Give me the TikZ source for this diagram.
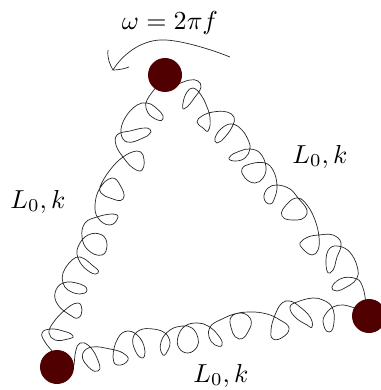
\documentclass[tikz,border=0pt]{standalone}
\usetikzlibrary{backgrounds}
\tikzset{
  ball/.style={circle,fill=ballred,draw=none,inner sep=0pt,minimum size=34pt},
  spring/.style={draw=black!85,line width=0.7pt},
  lab/.style={scale=2.6,inner sep=0pt,text=black},
  spin/.style={draw=black!85,line width=0.7pt}
}
\definecolor{ballred}{HTML}{500000}
\makeatletter
\newcount\sprcount
\def\sprscan(#1,#2){\global\advance\sprcount by 1
  \expandafter\xdef\csname PX\the\sprcount\endcsname{#1}%
  \expandafter\xdef\csname PY\the\sprcount\endcsname{#2}%
  \@ifnextchar(\sprscan{}}
\def\sprget#1#2{\csname P#1\the\numexpr#2\relax\endcsname}
\newcommand\springp[3]{%
  \global\sprcount=0
  \@ifnextchar(\sprscan{}#2\relax
  \edef\sprN{\the\sprcount}%
  \pgfmathtruncatemacro\sprNM{\sprN-1}%
  \gdef\sprsegs{}%
  \foreach \i in {1,...,\sprNM}{%
    \pgfmathtruncatemacro\ia{max(\i-1,1)}%
    \pgfmathtruncatemacro\ib{\i+1}%
    \pgfmathtruncatemacro\ic{min(\i+2,\sprN)}%
    \edef\xa{\sprget{X}{\ia}}\edef\ya{\sprget{Y}{\ia}}%
    \edef\xb{\sprget{X}{\i}}\edef\yb{\sprget{Y}{\i}}%
    \edef\xc{\sprget{X}{\ib}}\edef\yc{\sprget{Y}{\ib}}%
    \edef\xd{\sprget{X}{\ic}}\edef\yd{\sprget{Y}{\ic}}%
    \pgfmathsetmacro\sL{veclen(\xc-\xb,\yc-\yb)}%
    \pgfmathsetmacro\sA{veclen(\xc-\xa,\yc-\ya)+0.001}%
    \pgfmathsetmacro\sB{veclen(\xd-\xb,\yd-\yb)+0.001}%
    \pgfmathsetmacro\cax{\xb+0.36*\sL*(\xc-\xa)/\sA}%
    \pgfmathsetmacro\cay{\yb+0.36*\sL*(\yc-\ya)/\sA}%
    \pgfmathsetmacro\cbx{\xc-0.36*\sL*(\xd-\xb)/\sB}%
    \pgfmathsetmacro\cby{\yc-0.36*\sL*(\yd-\yb)/\sB}%
    \xdef\sprsegs{\sprsegs .. controls (\cax,\cay) and (\cbx,\cby) .. (\xc,\yc) }%
  }%
  \edef\sprfull{\noexpand\draw[spring] (#1.center) -- (\sprget{X}{1},\sprget{Y}{1}) \sprsegs -- (#3.center);}%
  \sprfull
}
\makeatother
\begin{document}
\begin{tikzpicture}[x=1pt,y=-1pt]
\useasboundingbox (0,0) rectangle (380,390);
\node[ball] (top) at (165,75) {};
\node[ball] (right) at (369,316) {};
\node[ball] (left) at (57,367) {};
\node[lab,anchor=base] (omega) at (170,30) {$\omega=2\pi f$};
\node[lab,anchor=base] (lr) at (320,163) {$L_0,k$};
\node[lab,anchor=base] (ll) at (38,208) {$L_0,k$};
\node[lab,anchor=base] (lb) at (221,382) {$L_0,k$};
\coordinate (as) at (230,57);
\coordinate (ae) at (113,70);
\coordinate (b1) at (108,50);
\coordinate (b2) at (129,67);
\draw[spin] (as) .. controls (205,47) and (175,39) .. (160,40) .. controls (140,41) and (122,55) .. (ae);
\draw[spin] (b1) .. controls (107,58) and (110,65) .. (ae) .. controls (118,70) and (124,69) .. (b2);
\begin{scope}[on background layer]
\springp{top}{(178,84) (190,80) (198,81) (201,87) (195,97) (184,109) (183,103) (187,92) (193,88) (201,95) (207,107) (210,118) (208,131) (203,128) (197,122) (202,116) (213,112) (227,112) (234,117) (233,125) (225,137) (217,143) (215,138) (222,128) (232,124) (242,130) (249,142) (250,149) (245,158) (235,161) (229,158) (240,151) (250,149) (260,153) (266,167) (263,178) (255,183) (245,178) (242,169) (250,164) (265,163) (273,170) (277,185) (275,197) (270,204) (264,198) (268,188) (277,185) (290,189) (298,198) (307,210) (305,217) (297,220) (282,216) (288,203) (298,198) (307,205) (315,220) (319,237) (318,250) (312,255) (302,248) (300,243) (308,237) (319,235) (333,235) (341,243) (337,257) (330,273) (326,263) (330,248) (342,247) (352,255) (358,270) (357,278) (350,285) (333,290) (340,279) (357,279) (363,288) (366,303)}{right}
\springp{right}{(355,308) (343,305) (333,307) (325,315) (323,322) (329,332) (334,322) (332,307) (323,300) (313,298) (297,302) (290,307) (295,317) (307,325) (312,327) (310,317) (300,307) (290,301) (282,303) (275,315) (271,330) (273,339) (283,337) (289,328) (280,320) (267,314) (250,312) (233,315) (230,323) (239,339) (250,328) (250,318) (240,313) (220,320) (210,327) (209,337) (215,345) (222,345) (218,335) (208,326) (198,323) (185,326) (178,337) (179,348) (188,353) (197,347) (198,338) (192,328) (183,326) (170,330) (161,342) (163,355) (168,350) (170,342) (165,333) (153,329) (140,330) (133,338) (135,350) (142,358) (145,352) (140,338) (128,331) (118,338) (113,357) (117,365) (128,360) (123,353) (110,349) (92,347) (83,353) (85,363) (98,371) (97,358) (88,345) (80,343) (76,350) (74,365)}{left}
\springp{left}{(53,352) (45,342) (42,333) (50,329) (63,331) (73,336) (68,339) (55,340) (49,333) (53,323) (65,310) (78,303) (82,310) (78,318) (70,315) (58,305) (55,293) (63,283) (80,284) (87,290) (80,294) (68,290) (63,283) (63,273) (72,260) (80,257) (92,265) (98,273) (87,270) (78,258) (78,247) (88,235) (102,235) (107,245) (102,255) (88,250) (82,237) (85,223) (97,217) (113,214) (118,217) (110,225) (98,218) (95,205) (100,188) (112,178) (120,185) (123,199) (110,198) (101,193) (100,187) (110,170) (123,157) (137,151) (143,155) (142,170) (133,168) (123,157) (116,145) (117,135) (130,131) (147,128) (151,132) (143,138) (127,142) (121,133) (125,118) (137,105) (147,103) (155,107) (163,119) (152,117) (146,108) (147,100) (157,86)}{top}
\end{scope}
\end{tikzpicture}
\end{document}
